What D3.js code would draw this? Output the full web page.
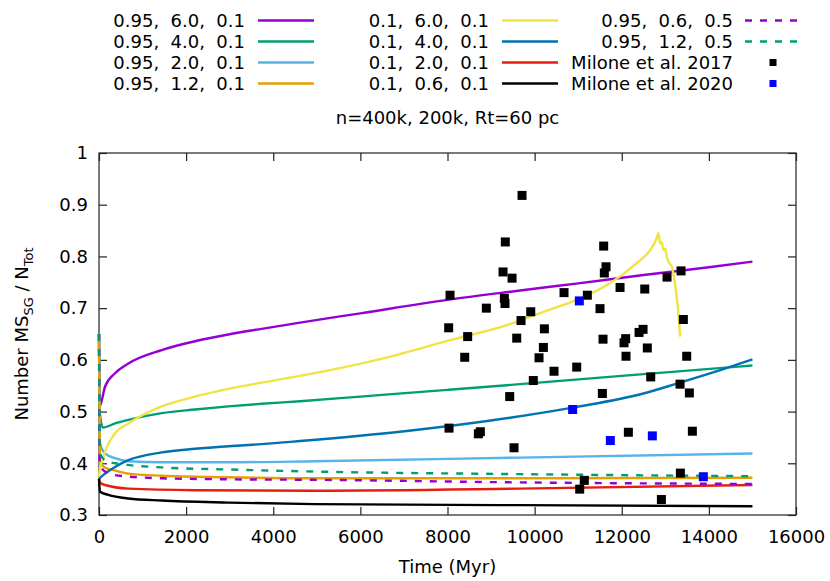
<!DOCTYPE html>
<html>
<head>
<meta charset="utf-8">
<script src="https://cdn.jsdelivr.net/npm/d3@7"></script>
<style>
  body { margin: 0; background: #fff; }
  text { font-family: "DejaVu Sans", sans-serif; fill: #000; }
</style>
</head>
<body>
<svg id="canvas"></svg>
<script>
// model curves: [time (Myr), fraction]
let m95_60 = [[0,0.65],[15,0.51],[138,0.548],[367,0.574],[674,0.593],[1439,0.619],[2204,0.636],[2969,0.649],[3735,0.660],[4614,0.672],[6000,0.690],[8000,0.716],[9665,0.734],[11000,0.748],[12500,0.764],[14000,0.779],[15000,0.790]];
let m95_40 = [[0,0.65],[15,0.50],[90,0.469],[367,0.477],[674,0.484],[1439,0.497],[2204,0.504],[2969,0.510],[3735,0.515],[4614,0.520],[6000,0.529],[8000,0.542],[9665,0.553],[12000,0.569],[15000,0.589]];
let m95_20 = [[0,0.65],[20,0.44],[138,0.419],[367,0.410],[674,0.404],[1439,0.402],[2969,0.402],[4959,0.404],[9665,0.411],[15000,0.419]];
let m95_12 = [[0,0.65],[20,0.40],[138,0.392],[367,0.386],[674,0.380],[1439,0.376],[2969,0.373],[4959,0.371],[9665,0.371],[15000,0.372]];
let m10_60 = [[0,0.37],[30,0.395],[80,0.405],[138,0.422],[367,0.458],[674,0.477],[1439,0.510],[2204,0.529],[2969,0.544],[3735,0.556],[4614,0.569],[6527,0.603],[8058,0.638],[9435,0.669],[10201,0.693],[10966,0.716],[11731,0.748],[12344,0.787],[12650,0.812],[12800,0.835],[12841,0.845],[12880,0.825],[12917,0.828],[12960,0.812],[13000,0.815],[13032,0.800],[13093,0.787],[13150,0.780],[13185,0.767],[13261,0.722],[13300,0.690],[13338,0.645]];
let m10_40 = [[0,0.37],[138,0.380],[367,0.393],[674,0.406],[1439,0.421],[2204,0.428],[2969,0.433],[3735,0.437],[4614,0.443],[6910,0.461],[9435,0.488],[10966,0.509],[12497,0.535],[13261,0.554],[14027,0.574],[15000,0.601]];
let m10_20 = [[0,0.37],[30,0.362],[138,0.358],[674,0.351],[2204,0.348],[4959,0.347],[9665,0.351],[15000,0.358]];
let m10_06 = [[0,0.37],[23,0.345],[214,0.339],[674,0.332],[1439,0.328],[2969,0.324],[4959,0.321],[9665,0.319],[15000,0.317]];
let m95_06_05 = [[0,0.65],[15,0.40],[138,0.384],[367,0.377],[1439,0.371],[2969,0.369],[4959,0.368],[9665,0.363],[15000,0.360]];
let m95_12_05 = [[0,0.65],[20,0.42],[138,0.406],[367,0.400],[1439,0.392],[2969,0.388],[4959,0.384],[9665,0.379],[15000,0.375]];

// observations: [age (Myr), fraction]
let milone2017 = [[9711,0.918],[9327,0.828],[8058,0.725],[9275,0.770],[9482,0.758],[9305,0.719],[9320,0.709],[8892,0.700],[9911,0.693],[9688,0.676],[8027,0.662],[8463,0.645],[9589,0.642],[10224,0.660],[10201,0.624],[10101,0.604],[8395,0.605],[10445,0.578],[10966,0.586],[9970,0.560],[9428,0.529],[8035,0.468],[8754,0.461],[8708,0.457],[9527,0.430],[10675,0.730],[11210,0.725],[11585,0.820],[11639,0.780],[11600,0.768],[11501,0.699],[11961,0.740],[12528,0.737],[13039,0.760],[13361,0.772],[11570,0.640],[12090,0.641],[12052,0.633],[12098,0.607],[12489,0.659],[12397,0.653],[12587,0.623],[13414,0.678],[13491,0.607],[12665,0.567],[13338,0.553],[13552,0.536],[11555,0.535],[12152,0.460],[13621,0.462],[13346,0.381],[11141,0.367],[11035,0.350],[12910,0.330]];
let milone2020 = [[11026,0.714],[10873,0.504],[11738,0.444],[12702,0.453],[13873,0.374]];

let curves = [m95_60, m95_40, m95_20, m95_12, m10_60, m10_40, m10_20, m10_06, m95_06_05, m95_12_05];
let curveNames = ["0.95,  6.0,  0.1", "0.95,  4.0,  0.1", "0.95,  2.0,  0.1", "0.95,  1.2,  0.1",
                  "0.1,  6.0,  0.1", "0.1,  4.0,  0.1", "0.1,  2.0,  0.1", "0.1,  0.6,  0.1",
                  "0.95,  0.6,  0.5", "0.95,  1.2,  0.5"];
let curveColors = ["#9400d3", "#009e73", "#56b4e9", "#e69f00", "#f0e442", "#0072b2", "#e51e10", "#000000", "#9400d3", "#009e73"];
let curveDashed = [false, false, false, false, false, false, false, false, true, true];

let xTicks = [0, 2000, 4000, 6000, 8000, 10000, 12000, 14000, 16000];
let yTicks = [0.3, 0.4, 0.5, 0.6, 0.7, 0.8, 0.9, 1];

let width = 830;
let height = 581;
let padL = 99, padR = 796, padT = 153, padB = 515;

let canvas = d3.select("#canvas").attr("width", width).attr("height", height);

let xScale = d3.scaleLinear().domain([0, 16000]).range([padL, padR]);
let yScale = d3.scaleLinear().domain([0.3, 1]).range([padB, padT]);

// frame
canvas.append("rect")
      .attr("x", padL).attr("y", padT)
      .attr("width", padR - padL).attr("height", padB - padT)
      .attr("fill", "none").attr("stroke", "#222").attr("stroke-width", 1.2);

let styleAxis = (g) => {
    g.select(".domain").remove();
    g.selectAll(".tick line").attr("stroke", "#222").attr("stroke-width", 1.2);
    g.selectAll("text").style("font-size", "18px").style("font-family", "DejaVu Sans, sans-serif").attr("fill", "#000");
}

canvas.append("g").attr("transform", "translate(0," + padB + ")")
      .call(d3.axisBottom(xScale).tickValues(xTicks).tickSize(-8).tickPadding(15).tickFormat(d3.format("d")))
      .call(styleAxis);
canvas.append("g").attr("transform", "translate(0," + padT + ")")
      .call(d3.axisTop(xScale).tickValues(xTicks).tickSize(-8).tickFormat(""))
      .call(styleAxis);
canvas.append("g").attr("transform", "translate(" + padL + ",0)")
      .call(d3.axisLeft(yScale).tickValues(yTicks).tickSize(-8).tickPadding(11).tickFormat(d3.format("~g")))
      .call(styleAxis);
canvas.append("g").attr("transform", "translate(" + padR + ",0)")
      .call(d3.axisRight(yScale).tickValues(yTicks).tickSize(-8).tickFormat(""))
      .call(styleAxis);

// curves
let line = d3.line()
             .x(d => xScale(d[0]))
             .y(d => yScale(d[1]))
             .curve(d3.curveMonotoneX);

curves.forEach((c, i) => {
    canvas.append("path")
          .datum(c)
          .attr("d", line)
          .attr("fill", "none")
          .attr("stroke", curveColors[i])
          .attr("stroke-width", 2.4)
          .attr("stroke-dasharray", curveDashed[i] ? "7,8" : null);
});

// observed points
let drawPoints = (pts, color) => {
    canvas.append("g").selectAll("rect")
          .data(pts)
          .enter()
          .append("rect")
          .attr("x", d => xScale(d[0]) - 4.5)
          .attr("y", d => yScale(d[1]) - 4.5)
          .attr("width", 9).attr("height", 9)
          .attr("fill", color);
}
drawPoints(milone2017, "#000000");
drawPoints(milone2020, "#0000ff");

// legend
let colTextEnd = [245, 489, 733];
let colLineStart = [258, 502, 745];
let rowY = [20.5, 41.5, 62.5, 83.5];
let legend = canvas.append("g");

let legendText = (col, row, txt) => {
    legend.append("text")
          .attr("x", colTextEnd[col]).attr("y", rowY[row]).attr("dy", "0.35em")
          .attr("text-anchor", "end")
          .style("font-size", "18px")
          .style("white-space", "pre")
          .text(txt);
}

curves.forEach((c, i) => {
    let col = Math.floor(i / 4), row = i % 4;
    legendText(col, row, curveNames[i]);
    legend.append("line")
          .attr("x1", colLineStart[col]).attr("x2", colLineStart[col] + (col == 2 ? 52 : 56))
          .attr("y1", rowY[row]).attr("y2", rowY[row])
          .attr("stroke", curveColors[i]).attr("stroke-width", 2.4)
          .attr("stroke-dasharray", curveDashed[i] ? "7,8" : null);
});

[["Milone et al. 2017", "#000000"], ["Milone et al. 2020", "#0000ff"]].forEach((m, j) => {
    legendText(2, 2 + j, m[0]);
    legend.append("rect")
          .attr("x", 773 - 3.5).attr("y", rowY[2 + j] - 3.5)
          .attr("width", 7).attr("height", 7)
          .attr("fill", m[1]);
});

// title and axis labels
canvas.append("text")
      .attr("x", (padL + padR) / 2).attr("y", 118).attr("dy", "0.35em")
      .attr("text-anchor", "middle").style("font-size", "18px")
      .text("n=400k, 200k, Rt=60 pc");

canvas.append("text")
      .attr("x", (padL + padR) / 2).attr("y", 567).attr("dy", "0.35em")
      .attr("text-anchor", "middle").style("font-size", "18px")
      .text("Time (Myr)");

let ylab = canvas.append("text")
      .attr("transform", "translate(22," + ((padT + padB) / 2) + ") rotate(-90)")
      .attr("dy", "0.35em")
      .attr("text-anchor", "middle").style("font-size", "18px");
ylab.append("tspan").text("Number MS");
ylab.append("tspan").attr("dy", 5).style("font-size", "13px").text("SG");
ylab.append("tspan").attr("dy", -5).text(" / N");
ylab.append("tspan").attr("dy", 5).style("font-size", "13px").text("Tot");
</script>
</body>
</html>
